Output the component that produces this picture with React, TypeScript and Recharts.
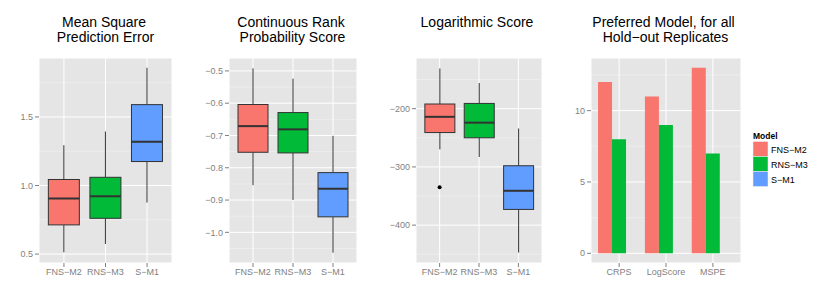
import React from 'react'
import {
  ComposedChart,
  BarChart,
  Bar,
  Scatter,
  XAxis,
  YAxis,
  CartesianGrid,
} from 'recharts'

const models = ['FNS−M2', 'RNS−M3', 'S−M1']
const modelColors = ['#F8766D', '#00BA38', '#619CFF']

// [lower whisker, Q1, median, Q3, upper whisker] per model
const mspeStats = [
  [0.513, 0.713, 0.905, 1.044, 1.294],
  [0.574, 0.761, 0.922, 1.06, 1.394],
  [0.876, 1.175, 1.32, 1.59, 1.859],
]
const crpsStats = [
  [-0.854, -0.752, -0.671, -0.604, -0.492],
  [-0.9, -0.754, -0.681, -0.629, -0.524],
  [-1.063, -0.952, -0.865, -0.815, -0.701],
]
const logStats = [
  [-270, -241, -214, -192, -131],
  [-283, -250, -224, -191, -156],
  [-447, -373, -341, -298, -234],
]
// outlying point per model (null = none)
const logOutliers = [-335, null, null]

const mspeTicks = [0.5, 1, 1.5]
const mspeMinor = [0.75, 1.25, 1.75]
const crpsTicks = [-1, -0.9, -0.8, -0.7, -0.6, -0.5]
const crpsMinor = [-1.05, -0.95, -0.85, -0.75, -0.65, -0.55]
const logTicks = [-400, -300, -200]
const logMinor = [-450, -350, -250, -150]

const scoreNames = ['CRPS', 'LogScore', 'MSPE']
const fnsWins = [12, 11, 13]
const rnsWins = [8, 9, 7]
const smWins = [0, 0, 0]
const winTicks = [0, 5, 10]
const winMinor = [2.5, 7.5, 12.5]

const FONT = '"Liberation Sans", Arial, Helvetica, sans-serif'
const GREY = '#7f7f7f'
const H = 296
const PLOT_TOP = 58
const X_AXIS_H = 33

const toRows = (stats: number[][], outliers?: (number | null)[]) =>
  models.map((model, i) => ({
    model,
    lo: stats[i][0],
    q1: stats[i][1],
    med: stats[i][2],
    q3: stats[i][3],
    hi: stats[i][4],
    outlier: outliers ? outliers[i] : null,
  }))

const winRows = scoreNames.map((score, i) => ({
  score,
  fns: fnsWins[i],
  rns: rnsWins[i],
  sm: smWins[i],
}))

const fmt = (digits: number) => (v: number) => v.toFixed(digits).replace('-', '\u2212')

function BoxShape(props: any) {
  const { x, y, width, height, payload, index } = props
  const top = Math.min(y, y + height)
  const bottom = Math.max(y, y + height)
  const span = payload.hi - payload.lo
  const py = (v: number) => top + ((payload.hi - v) / span) * (bottom - top)
  const cx = x + width / 2
  return (
    <g>
      <line x1={cx} x2={cx} y1={py(payload.hi)} y2={py(payload.q3)} stroke="#333333" strokeWidth={1} />
      <line x1={cx} x2={cx} y1={py(payload.q1)} y2={py(payload.lo)} stroke="#333333" strokeWidth={1} />
      <rect
        x={x}
        y={py(payload.q3)}
        width={width}
        height={py(payload.q1) - py(payload.q3)}
        fill={modelColors[index]}
        stroke="#333333"
        strokeWidth={1}
      />
      <line x1={x} x2={x + width} y1={py(payload.med)} y2={py(payload.med)} stroke="#333333" strokeWidth={2} />
    </g>
  )
}

const OutlierDot = (props: any) => {
  if (props.payload == null || props.payload.outlier == null || !isFinite(props.cy)) return <g />
  return <circle cx={props.cx} cy={props.cy} r={2} fill="#000" />
}

interface BoxPanelProps {
  left: number
  width: number
  yWidth: number
  stats: number[][]
  domain: [number, number]
  ticks: number[]
  minor: number[]
  digits: number
  outliers?: (number | null)[]
}

function BoxPanel({ left, width, yWidth, stats, domain, ticks, minor, digits, outliers }: BoxPanelProps) {
  const plotW = width - yWidth
  const pad = plotW / 32
  return (
    <div style={{ position: 'absolute', left, top: 0 }}>
      <ComposedChart
        width={width}
        height={H}
        data={toRows(stats, outliers)}
        margin={{ top: PLOT_TOP, right: 0, bottom: 0, left: 0 }}
        barCategoryGap="12.5%"
      >
        <CartesianGrid fill="#e5e5e5" stroke="#f2f2f2" strokeWidth={0.6} vertical={false} horizontalValues={minor} />
        <CartesianGrid stroke="#ffffff" strokeWidth={1} />
        <XAxis
          dataKey="model"
          padding={{ left: pad, right: pad }}
          height={X_AXIS_H}
          axisLine={false}
          tickSize={4}
          tickMargin={2}
          interval={0}
          tickLine={{ stroke: GREY }}
          tick={{ fill: GREY, fontSize: 9, fontFamily: FONT }}
        />
        <YAxis
          type="number"
          domain={domain}
          ticks={ticks}
          allowDataOverflow
          width={yWidth}
          axisLine={false}
          tickSize={4}
          tickMargin={2}
          tickLine={{ stroke: GREY }}
          tickFormatter={fmt(digits)}
          tick={{ fill: GREY, fontSize: 9, fontFamily: FONT }}
        />
        <Bar dataKey={(d: any) => [d.lo, d.hi]} shape={BoxShape} isAnimationActive={false} />
        {outliers && <Scatter dataKey="outlier" shape={OutlierDot} isAnimationActive={false} />}
      </ComposedChart>
    </div>
  )
}

function WinsPanel() {
  const left = 560
  const width = 181
  const yWidth = 31
  const pad = (width - yWidth) / 32
  return (
    <div style={{ position: 'absolute', left, top: 0 }}>
      <BarChart
        width={width}
        height={H}
        data={winRows}
        margin={{ top: PLOT_TOP, right: 0, bottom: 0, left: 0 }}
        barCategoryGap="5%"
        barGap={0}
      >
        <CartesianGrid fill="#e5e5e5" stroke="#f2f2f2" strokeWidth={0.6} vertical={false} horizontalValues={winMinor} />
        <CartesianGrid stroke="#ffffff" strokeWidth={1} />
        <XAxis
          dataKey="score"
          padding={{ left: pad, right: pad }}
          height={X_AXIS_H}
          axisLine={false}
          tickSize={4}
          tickMargin={2}
          interval={0}
          tickLine={{ stroke: GREY }}
          tick={{ fill: GREY, fontSize: 9, fontFamily: FONT }}
        />
        <YAxis
          type="number"
          domain={[-0.68, 13.69]}
          ticks={winTicks}
          allowDataOverflow
          width={yWidth}
          axisLine={false}
          tickSize={4}
          tickMargin={2}
          tickLine={{ stroke: GREY }}
          tick={{ fill: GREY, fontSize: 9, fontFamily: FONT }}
        />
        <Bar dataKey="fns" fill={modelColors[0]} isAnimationActive={false} />
        <Bar dataKey="rns" fill={modelColors[1]} isAnimationActive={false} />
        <Bar dataKey="sm" fill={modelColors[2]} isAnimationActive={false} />
      </BarChart>
    </div>
  )
}

function Overlay() {
  const title = { fontFamily: FONT, fontSize: 14, fill: '#000', textAnchor: 'middle' as const }
  return (
    <svg width={830} height={H} style={{ position: 'absolute', left: 0, top: 0, pointerEvents: 'none' }}>
      <text x={104} y={27} {...title}>Mean Square</text>
      <text x={105.5} y={41.5} {...title}>Prediction Error</text>
      <text x={291} y={27} {...title}>Continuous Rank</text>
      <text x={292.5} y={41.5} {...title}>Probability Score</text>
      <text x={477} y={27} {...title}>Logarithmic Score</text>
      <text x={663.5} y={27} {...title}>Preferred Model, for all</text>
      <text x={665.5} y={41.5} {...title}>Hold−out Replicates</text>
      <text x={753} y={139} fontFamily={FONT} fontSize={8.5} fontWeight="bold">Model</text>
      {models.map((m, i) => (
        <g key={m}>
          <rect x={753} y={141.5 + i * 15} width={15} height={15} fill={modelColors[i]} stroke="#f2f2f2" strokeWidth={0.5} />
          <text x={771} y={152.5 + i * 15} fontFamily={FONT} fontSize={9} fill="#000">{m}</text>
        </g>
      ))}
    </svg>
  )
}

export default function App() {
  return (
    <div style={{ position: 'absolute', left: 0, top: 0, width: 830, height: H, background: '#fff' }}>
      <BoxPanel left={0} width={172} yWidth={39} stats={mspeStats} domain={[0.435, 1.93]} ticks={mspeTicks} minor={mspeMinor} digits={1} />
      <BoxPanel left={190} width={167} yWidth={39} stats={crpsStats} domain={[-1.095, -0.46]} ticks={crpsTicks} minor={crpsMinor} digits={1} />
      <BoxPanel
        left={377}
        width={165}
        yWidth={39}
        stats={logStats}
        domain={[-465, -113]}
        ticks={logTicks}
        minor={logMinor}
        digits={0}
        outliers={logOutliers}
      />
      <WinsPanel />
      <Overlay />
    </div>
  )
}
